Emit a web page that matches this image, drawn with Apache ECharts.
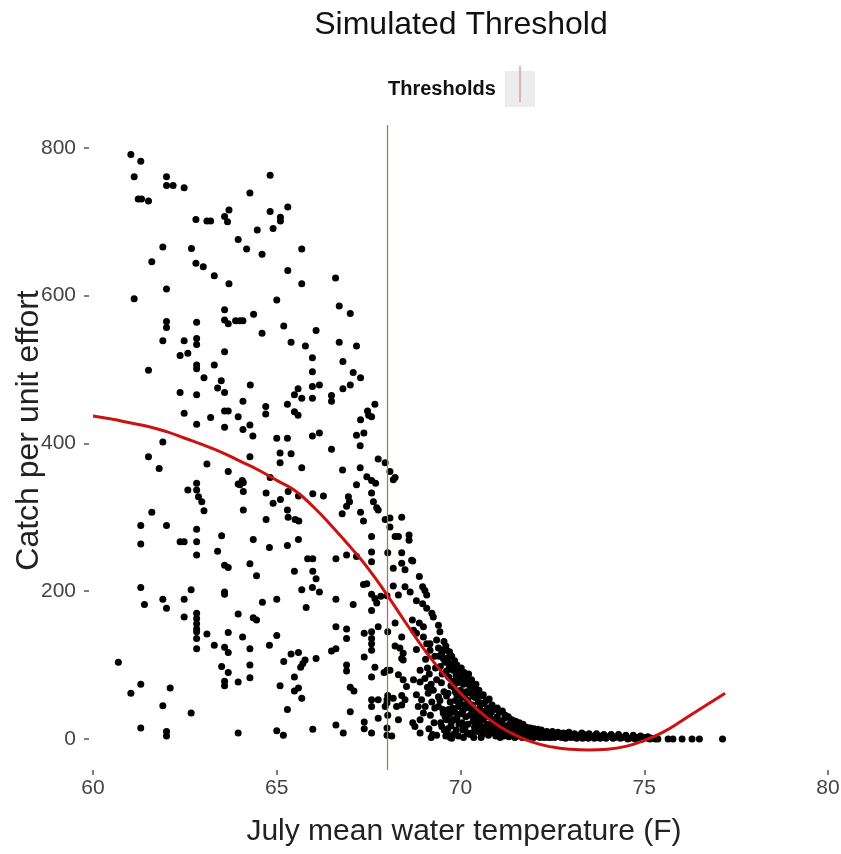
<!DOCTYPE html>
<html><head><meta charset="utf-8">
<script src="https://cdn.jsdelivr.net/npm/echarts@6/dist/echarts.min.js"></script>
<style>html,body{margin:0;padding:0;background:#fff}#c{width:841px;height:854px}</style>
</head><body><div id="c"></div><script>
const xTicks = [60, 65, 70, 75, 80];
const yTicks = [0, 200, 400, 600, 800];
const threshold = 68;
const curveTemp  = [60.0, 60.5, 61.0, 61.5, 62.0, 62.5, 63.0, 63.5, 64.0, 64.5, 65.0, 65.5, 66.0, 66.5, 67.0, 67.5, 68.0, 68.5, 69.0, 69.5, 70.0, 70.5, 71.0, 71.5, 72.0, 72.5, 73.0, 73.5, 74.0, 74.5, 75.0, 75.5, 76.0, 76.5, 77.2];
const curveCatch = [437, 433, 428, 423, 416, 407, 398, 388, 376, 364, 350, 336, 314, 288, 260, 230, 195, 158, 122, 90, 62, 38, 19, 5, -5, -11, -14, -15, -14, -10, -2, 9, 24, 40, 62];

const pointsCoolHigh = [[61.03,791],[61.3,782],[61.12,761],[62.0,761],[62.0,749],[62.18,749],[62.48,746],[61.23,731],[61.32,731],[61.51,728],[63.7,716],[62.8,703],[63.1,701],[63.2,701],[63.58,707],[63.66,700],[63.95,676],[61.9,666],[62.68,664],[61.6,646],[62.8,644],[63.0,639],[63.3,627],[63.7,616],[62.0,609],[61.12,596],[63.58,581],[62.0,565],[62.0,557],[62.82,564],[63.58,567],[63.68,562],[63.88,566],[61.9,539],[62.48,539],[62.82,542],[62.82,534],[62.37,519],[62.58,522],[63.58,524],[62.82,506],[62.82,501],[63.3,506],[61.51,499],[63.02,489],[63.49,485],[63.39,475],[63.58,469],[62.37,469],[62.82,466],[62.48,441],[62.82,426],[63.2,435],[63.58,444],[63.68,444],[63.95,436],[63.58,422],[61.9,402]];
const pointsMidHigh = [[64.82,763],[64.27,739],[64.82,714],[65.3,720],[65.1,706],[65.1,701],[64.47,689],[64.9,691],[64.18,663],[64.6,656],[65.68,663],[65.3,634],[65.68,616],[66.6,624],[65.0,594],[66.7,586],[67.0,576],[64.37,575],[64.0,566],[64.08,566],[64.6,549],[65.19,559],[66.07,553],[65.39,537],[65.78,532],[66.7,537],[67.17,532],[65.97,516],[66.8,511],[65.97,497],[67.08,496],[67.28,489],[64.28,479],[65.97,477],[66.16,479],[66.8,474],[67.0,479],[65.58,474],[65.48,466],[65.68,461],[65.97,461],[66.49,465],[66.49,457],[64.08,457],[64.7,450],[64.7,440],[65.29,453],[65.48,443],[65.58,438],[64.27,425],[64.08,419],[64.35,410],[67.47,444],[67.58,436],[67.67,453],[67.28,432],[67.17,411],[67.37,414],[65.97,410],[66.16,414],[65.0,407],[65.29,407],[67.5,438]];
const pointsCoolLow = [[61.51,382],[61.8,366],[63.1,372],[63.68,362],[63.95,345],[62.82,346],[62.82,337],[62.87,328],[62.96,321],[63.02,309],[62.58,337],[61.6,307],[61.3,289],[62.0,289],[62.82,284],[62.37,267],[62.48,267],[62.82,267],[61.3,264],[63.5,275],[62.82,249],[63.39,254],[63.58,235],[63.68,232],[61.3,205],[62.67,202],[63.58,199],[63.58,196],[61.4,182],[61.9,189],[62.0,177],[62.48,189],[62.48,165],[62.82,170],[62.82,163],[62.82,156],[62.82,149],[62.82,145],[62.82,136],[63.1,142],[63.95,169],[63.68,144],[62.82,122],[63.3,127],[63.58,124],[63.68,117],[60.69,104],[63.5,98],[63.68,90],[63.58,78],[63.58,72],[63.95,77],[61.3,74],[61.03,62],[62.1,69],[61.9,45],[62.67,35],[61.3,15],[62.0,10],[62.0,4],[63.95,8]];
const pointsMidLow = [[67.27,397],[66.49,392],[65.09,387],[65.09,374],[65.39,386],[64.27,382],[65.68,367],[66.79,364],[67.27,367],[67.76,379],[67.95,374],[64.82,354],[64.06,350],[64.09,347],[64.0,344],[67.45,355],[67.58,350],[67.69,346],[67.17,344],[64.09,335],[64.71,333],[65.31,335],[65.59,329],[65.98,332],[66.27,329],[67.58,333],[64.9,319],[65.1,324],[66.95,328],[66.98,321],[66.9,315],[66.78,305],[67.63,321],[67.72,313],[67.76,310],[67.28,307],[67.36,295],[64.09,310],[65.29,310],[65.31,300],[65.5,297],[65.6,295],[64.71,297],[67.95,297],[64.36,270],[64.8,259],[65.29,262],[65.59,270],[67.58,274],[67.58,253],[67.58,240],[65.84,244],[65.98,244],[66.61,244],[66.9,249],[67.17,247],[64.27,237],[64.45,221],[65.48,227],[65.98,227],[66.07,217],[67.36,209],[67.45,210],[65.68,202],[65.97,205],[66.16,199],[67.58,196],[67.67,190],[67.72,184],[67.83,193],[64.61,185],[65.0,189],[66.61,189],[67.08,182],[65.8,178],[67.58,174],[64.36,164],[64.45,161],[67.76,152],[66.61,152],[66.9,149],[66.9,136],[67.38,143],[67.58,145],[67.58,136],[67.58,129],[67.58,120],[64.07,138],[65.0,140],[64.27,122],[64.8,127],[66.49,119],[66.61,122],[65.39,115],[65.59,117],[65.19,105],[66.07,109],[65.77,107],[65.71,102],[65.65,97],[67.38,111],[64.27,100],[66.9,100],[66.9,92],[67.67,97],[64.27,83],[65.48,84],[67.58,84],[65.09,72],[65.48,65],[65.59,69],[65.68,55],[67.0,70],[67.1,65],[67.58,53],[67.58,44],[67.76,53],[65.29,40],[67.0,37],[67.76,28],[67.38,23],[67.38,14],[67.58,8],[65.0,11],[65.18,5],[65.98,13],[66.61,19],[66.81,8],[68.02,252],[68.0,194],[68.02,145],[68.0,93],[68.02,59],[68.0,49],[68.02,32],[68.0,15]];
const pointsWarmEdge = [[68.08,362],[68.17,351],[68.22,354],[68.4,300],[68.08,299],[68.08,287],[68.22,274],[68.31,274],[68.6,276],[68.6,269],[68.4,252],[68.7,241],[68.4,238],[68.49,229],[68.17,231],[68.88,220],[68.97,206],[69.03,201],[69.08,195],[68.49,206],[68.63,199],[68.17,207],[68.31,195],[68.8,187],[68.97,183],[69.08,177],[69.22,170],[69.26,165],[68.22,157],[68.69,161],[68.88,157],[68.99,152],[69.4,154],[69.44,145],[68.4,138],[68.8,143],[69.17,129],[69.35,134],[68.22,126],[68.35,123],[68.44,116],[68.4,109],[68.44,107],[68.8,121],[69.4,123],[69.49,116],[69.62,120],[69.53,109],[69.67,103],[69.71,98],[69.8,93],[69.9,89],[69.99,84],[70.08,80],[70.17,75],[70.26,71],[67.92,90],[68.08,93],[68.31,87],[68.44,80],[68.53,71],[68.4,59],[68.9,93],[68.72,80],[68.9,77],[69.03,82],[69.35,80],[69.26,66],[69.4,57],[68.8,60],[68.94,53],[68.85,44],[68.99,35],[68.9,26],[68.76,17],[68.9,8],[68.31,26],[68.0,53],[67.95,44],[68.0,5],[68.13,4],[68.17,55],[68.26,44],[68.4,46],[68.49,53],[69.4,44],[69.53,35],[69.62,26],[69.49,17],[69.62,8],[69.76,1],[69.35,5],[68.67,242],[68.72,147],[68.99,138],[69.08,129],[69.17,120],[68.7,22]];
const pointsWarmDense = [[69.42,112],[69.45,98],[69.5,88],[69.48,76],[69.55,64],[69.44,52],[69.52,40],[69.58,30],[69.46,22],[69.56,12],[69.6,4],[69.5,120],[69.58,104],[69.62,92],[69.65,110],[69.7,96],[69.68,84],[69.74,72],[69.66,62],[69.72,50],[69.78,42],[69.7,33],[69.76,24],[69.66,14],[69.8,6],[69.72,2],[69.78,100],[69.8,78],[69.84,95],[69.88,86],[69.82,70],[69.9,60],[69.86,52],[69.94,44],[69.84,36],[69.9,28],[69.96,20],[69.88,12],[69.94,4],[69.98,80],[70.0,66],[69.98,50],[70.04,88],[70.08,74],[70.02,58],[70.1,46],[70.06,38],[70.14,30],[70.04,22],[70.12,14],[70.18,8],[70.08,2],[70.16,64],[70.2,52],[70.14,42],[70.24,76],[70.28,62],[70.22,48],[70.3,40],[70.26,32],[70.34,24],[70.38,16],[70.3,8],[70.36,2],[70.4,56],[70.32,46],[70.44,64],[70.48,50],[70.42,38],[70.5,30],[70.46,22],[70.54,14],[70.58,6],[70.52,42],[70.6,34],[70.56,2],[70.64,48],[70.68,38],[70.62,26],[70.72,20],[70.66,12],[70.76,5],[70.8,30],[70.74,42],[70.84,36],[70.88,26],[70.92,18],[70.86,10],[70.96,4],[71.0,30],[70.94,22],[71.05,24],[71.1,16],[71.14,8],[71.2,28],[71.24,18],[71.28,10],[71.32,3],[71.36,22],[71.4,14],[71.08,2],[71.45,18],[71.5,10],[71.55,4],[71.6,16],[71.66,8],[71.72,12],[71.78,3],[71.84,10],[71.9,6],[71.96,12],[72.0,2],[72.06,8],[72.12,4],[72.18,10],[72.25,3],[72.3,8],[72.38,5],[72.45,2],[72.52,7],[72.6,4],[72.68,6],[72.75,2],[72.82,5],[72.9,3],[72.96,7],[73.04,4],[73.12,2],[73.2,5],[73.28,3],[73.36,6],[73.44,2],[73.52,4],[73.6,3],[73.68,5],[73.76,2],[73.84,4],[73.92,3],[74.0,3],[74.1,5],[74.2,2],[74.3,4],[74.4,2],[74.5,3],[74.6,1],[74.7,3],[74.8,2],[74.9,1],[75.0,2],[75.1,1],[75.2,1],[75.3,0],[75.37,0],[75.65,0],[75.78,0],[76.03,0],[76.3,0],[76.5,0],[77.13,0]];
const pointsWarmExtra = [[69.05,108],[69.1,96],[69.15,88],[69.2,74],[69.12,62],[69.22,50],[69.3,42],[69.18,32],[69.28,22],[69.14,14],[69.24,6],[69.32,96],[69.3,112],[69.1,70],[69.04,44],[69.2,2],[69.55,132],[69.6,126],[69.7,118],[69.76,112],[69.84,106],[69.9,100],[69.96,94],[70.02,96],[70.1,90],[70.18,84],[70.22,88],[70.3,80],[70.36,70],[70.42,74],[70.5,66],[70.56,58],[70.62,60],[70.7,52],[70.78,54],[70.86,46],[70.92,40],[71.0,42],[71.06,36],[71.14,38],[71.22,32],[71.3,30],[71.4,26],[71.5,24],[71.6,22],[71.7,20],[71.8,16],[71.9,15],[72.0,14],[72.1,13],[72.2,12],[72.35,10],[72.5,10],[72.65,9],[72.8,8],[72.95,9],[73.1,7],[73.3,8],[73.5,7],[73.7,7],[73.9,6],[74.1,6],[74.3,6],[74.5,5],[74.7,5],[74.9,4],[75.1,3],[69.62,58],[69.68,40],[69.74,18],[69.82,26],[69.86,64],[69.92,76],[70.0,34],[70.06,12],[70.12,56],[70.2,20],[70.26,6],[70.34,58],[70.4,30],[70.46,10],[70.52,20],[70.58,48],[70.64,16],[70.7,30],[70.76,14],[70.82,20],[70.9,8],[70.98,14],[71.02,8],[71.12,24],[71.18,4],[71.26,14],[71.34,12],[71.42,6],[71.48,2],[71.58,10],[71.68,2],[71.76,8],[71.88,2],[71.94,4],[72.04,6],[72.16,2],[72.28,2],[72.4,2],[72.56,2],[72.7,3],[72.86,1],[73.0,2],[73.16,1],[73.32,1],[73.48,1],[73.64,1],[73.8,1],[73.96,1],[74.15,1],[74.35,1],[74.55,0],[74.75,0],[74.95,0],[75.15,0]];

const allPoints = [].concat(pointsCoolHigh, pointsMidHigh, pointsCoolLow, pointsMidLow, pointsWarmEdge, pointsWarmDense, pointsWarmExtra);
const curve = curveTemp.map((t, i) => [t, curveCatch[i]]);

const FONT = '"Liberation Sans", Arial, sans-serif';
const chart = echarts.init(document.getElementById('c'), null, {renderer: 'canvas'});
chart.setOption({
  animation: false,
  backgroundColor: '#ffffff',
  title: {
    text: 'Simulated Threshold', left: 456, top: 4, textAlign: 'center',
    textStyle: {fontFamily: FONT, fontSize: 32, fontWeight: 'normal', color: '#111'}
  },
  legend: {
    data: ['Thresholds'], left: 383, top: 66, align: 'right', selectedMode: false,
    icon: 'rect', itemWidth: 30, itemHeight: 36, itemGap: 0,
    itemStyle: {color: '#ececec'},
    textStyle: {fontFamily: FONT, fontSize: 20, fontWeight: 'bold', color: '#111', padding: [0, 4, 0, 0]}
  },
  graphic: [{
    type: 'line', z: 100, shape: {x1: 520, y1: 66, x2: 520, y2: 102},
    style: {stroke: '#d98a84', lineWidth: 1.2}
  }],
  grid: {left: 89, right: 2, top: 125, bottom: 84, outerBoundsMode: 'none', containLabel: false},
  xAxis: {
    type: 'value', min: 59.891, max: 80.299,
    name: 'July mean water temperature (F)', nameLocation: 'middle', nameGap: 47, nameMoveOverlap: false,
    nameTextStyle: {fontFamily: FONT, fontSize: 30, color: '#222'},
    axisLine: {show: false, onZero: false}, splitLine: {show: false},
    axisTick: {show: true, length: 5, customValues: xTicks, lineStyle: {color: '#555', width: 1.5}},
    axisLabel: {customValues: xTicks, margin: 8, fontFamily: FONT, fontSize: 21, color: '#444'}
  },
  yAxis: {
    type: 'value', min: -42, max: 831,
    name: 'Catch per unit effort', nameLocation: 'middle', nameGap: 44, nameMoveOverlap: false,
    nameTextStyle: {fontFamily: FONT, fontSize: 32, color: '#222', padding: [0, 0, 0, 34]},
    axisLine: {show: false, onZero: false}, splitLine: {show: false},
    axisTick: {show: true, length: 5, customValues: yTicks, lineStyle: {color: '#555', width: 1.5}},
    axisLabel: {customValues: yTicks, margin: 13, fontFamily: FONT, fontSize: 21, color: '#444'}
  },
  series: [
    {
      name: 'points', type: 'scatter', data: allPoints, symbol: 'circle', symbolSize: 7,
      itemStyle: {color: '#000', opacity: 1}, silent: true, z: 2
    },
    {
      name: 'Thresholds', type: 'line', data: [], itemStyle: {color: '#d98a84'}, lineStyle: {color: '#d98a84'},
      markLine: {
        silent: true, symbol: ['none', 'none'], label: {show: false},
        lineStyle: {color: '#cd5c5c', width: 1.2, type: 'solid'},
        data: [{xAxis: threshold}]
      },
      z: 3
    },
    {
      name: 'fit', type: 'line', data: curve, smooth: true, showSymbol: false,
      lineStyle: {color: '#cc1111', width: 3}, itemStyle: {color: '#cc1111'}, z: 4, silent: true
    }
  ]
});
</script></body></html>
